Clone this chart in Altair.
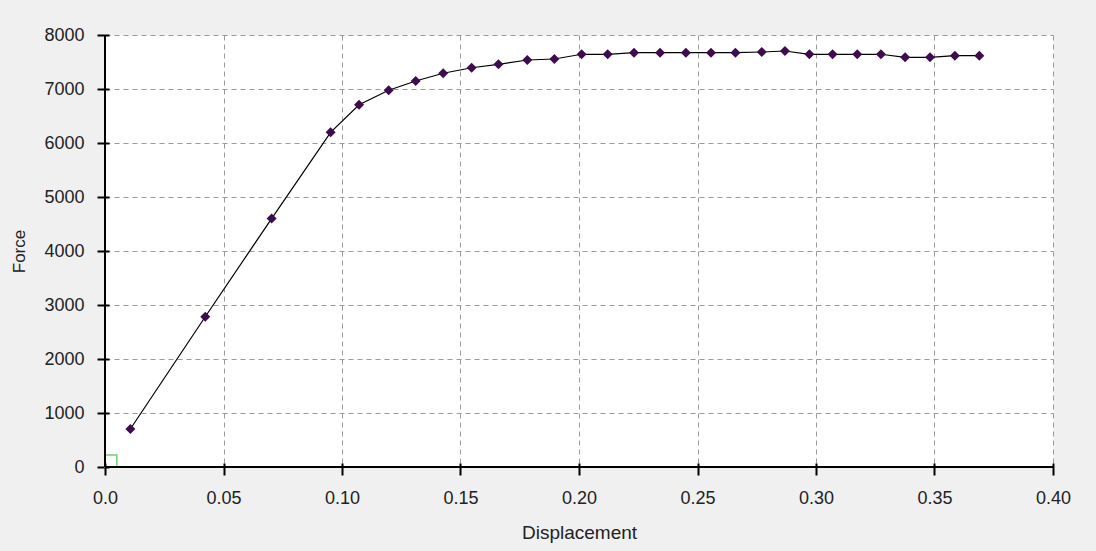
import altair as alt
import pandas as pd

# ---- data ----
displacement = [0.0107, 0.0423, 0.0703, 0.0952, 0.1072, 0.1197, 0.1311, 0.1427,
                0.1547, 0.1660, 0.1782, 0.1896, 0.2011, 0.2121, 0.2232, 0.2342,
                0.2451, 0.2557, 0.2660, 0.2771, 0.2869, 0.2972, 0.3070, 0.3174,
                0.3274, 0.3376, 0.3481, 0.3586, 0.3689]
force = [704, 2783, 4600, 6198, 6709, 6976, 7148, 7291,
         7394, 7457, 7537, 7556, 7643, 7643, 7672, 7672,
         7672, 7672, 7672, 7685, 7704, 7643, 7643, 7643,
         7643, 7587, 7587, 7617, 7617]

x_ticks = [0.0, 0.05, 0.10, 0.15, 0.20, 0.25, 0.30, 0.35, 0.40]
y_ticks = [0, 1000, 2000, 3000, 4000, 5000, 6000, 7000, 8000]

# small green origin box (data units)
box_x = [0.0]
box_x2 = [0.005]
box_y = [0]
box_y2 = [220]

df = pd.DataFrame({"Displacement": displacement, "Force": force})
box = pd.DataFrame({"Displacement": box_x, "x2": box_x2, "Force": box_y, "y2": box_y2})
one = pd.DataFrame({"k": [0]})

W, H = 948, 432
FONT = "Liberation Sans"
TXT = "#222222"

xs = alt.Scale(domain=[0, 0.4], nice=False, zero=False)
ys = alt.Scale(domain=[0, 8000], nice=False, zero=False)

x_axis = alt.Axis(
    title="Displacement", values=x_ticks,
    labelExpr="datum.value == 0 ? '0.0' : format(datum.value, '.2f')",
    grid=True, gridDash=[5, 4], gridColor="#9a9a9a", gridWidth=1,
    domain=False, ticks=True, tickSize=12, tickColor="black", tickWidth=2,
    offset=-4, labelPadding=14, labelFlush=False, labelOverlap=False,
    labelFont=FONT, labelFontSize=18, labelColor=TXT,
    titleFont=FONT, titleFontSize=19, titleFontWeight="normal", titleColor=TXT,
    titlePadding=16,
)
y_axis = alt.Axis(
    title="Force", values=y_ticks, format="d",
    grid=True, gridDash=[5, 4], gridColor="#9a9a9a", gridWidth=1,
    domain=False, ticks=True, tickSize=12, tickColor="black", tickWidth=2,
    offset=-4, labelPadding=13, labelFlush=False, labelOverlap=False,
    labelFont=FONT, labelFontSize=18, labelColor=TXT,
    titleFont=FONT, titleFontSize=17, titleFontWeight="normal", titleColor=TXT,
    titlePadding=15,
)

X = alt.X("Displacement:Q", scale=xs, axis=x_axis)
Y = alt.Y("Force:Q", scale=ys, axis=y_axis)

green = alt.Chart(box).mark_rect(fill="transparent", stroke="#6fd36f", strokeWidth=1.5).encode(
    x=X, x2="x2:Q", y=Y, y2="y2:Q",
)
base = alt.Chart(df)
line = base.mark_line(color="black", strokeWidth=1.2).encode(x=X, y=Y)
pts = base.mark_point(shape="diamond", filled=True, size=100, color="#3f0b4f", opacity=1).encode(x=X, y=Y)

y_dom = alt.Chart(one).mark_rule(color="black", strokeWidth=2).encode(
    x=alt.value(0), y=alt.value(0), y2=alt.value(H)
)
x_dom = alt.Chart(one).mark_rule(color="black", strokeWidth=2).encode(
    x=alt.value(0), x2=alt.value(W), y=alt.value(H)
)

chart = alt.layer(green, line, pts, y_dom, x_dom).properties(
    width=W, height=H,
    padding={"left": 105, "top": 35, "right": 43, "bottom": 84},
    autosize=alt.AutoSizeParams(type="none"),
    background="#f0f0f0",
).configure_view(fill="white", stroke="transparent")

chart.save("out.html", embed_options={"renderer": "svg", "actions": False})
